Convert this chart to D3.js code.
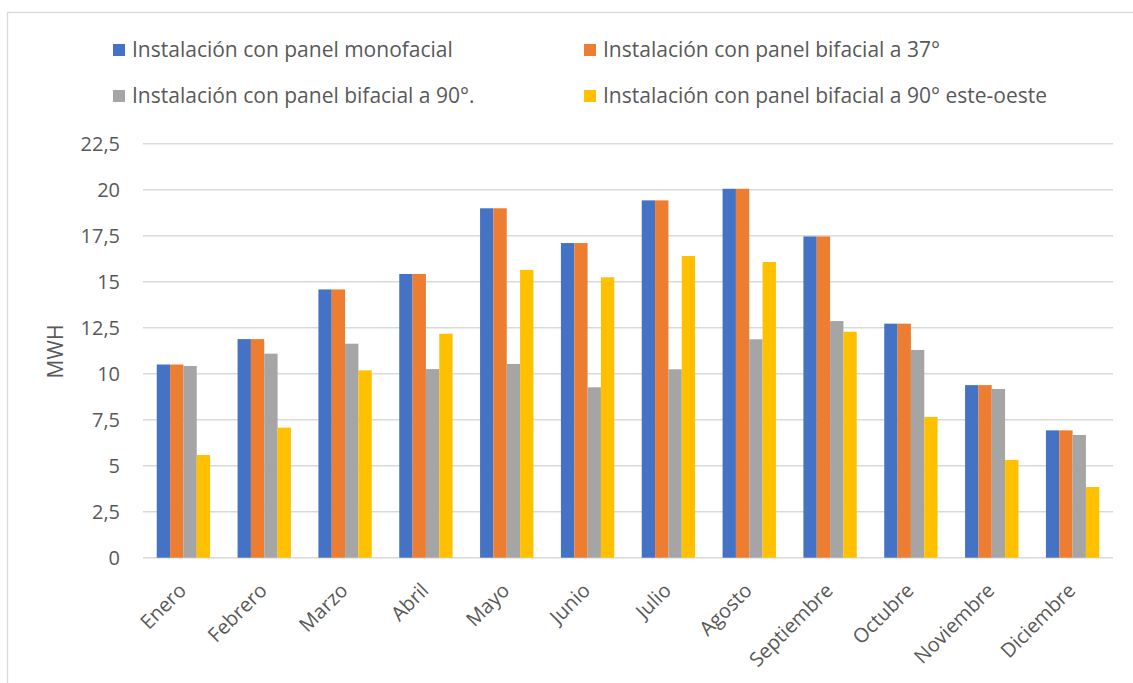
<!DOCTYPE html>
<html><head><meta charset="utf-8">
<script src="https://cdn.jsdelivr.net/npm/d3@7"></script>
<style>body{margin:0;background:#fff}svg{display:block}text{font-family:"Open Sans",sans-serif;fill:#595959}</style>
</head><body><svg id="c" width="1133" height="683"></svg>
<script>
const months = ["Enero","Febrero","Marzo","Abril","Mayo","Junio","Julio","Agosto","Septiembre","Octubre","Noviembre","Diciembre"];
const seriesNames = ["Instalación con panel monofacial","Instalación con panel bifacial a 37°","Instalación con panel bifacial a 90°.","Instalación con panel bifacial a 90° este-oeste"];
const monofacial = [10.5, 11.88, 14.58, 15.42, 18.99, 17.1, 19.42, 20.05, 17.46, 12.72, 9.38, 6.92];
const bifacial37 = [10.5, 11.88, 14.58, 15.42, 18.99, 17.1, 19.42, 20.05, 17.46, 12.72, 9.38, 6.92];
const bifacial90 = [10.42, 11.09, 11.63, 10.25, 10.53, 9.26, 10.24, 11.87, 12.86, 11.29, 9.17, 6.67];
const bifacial90EO = [5.58, 7.07, 10.18, 12.17, 15.64, 15.24, 16.4, 16.07, 12.28, 7.65, 5.31, 3.84];
const yTicks = [0, 2.5, 5, 7.5, 10, 12.5, 15, 17.5, 20, 22.5];
const colors = ["#4472C4","#ED7D31","#A5A5A5","#FFC000"];
const allSeries = [monofacial, bifacial37, bifacial90, bifacial90EO];

const svg = d3.select("#c");
svg.append("rect").attr("x",7.5).attr("y",12.5).attr("width",1200).attr("height",800)
  .attr("fill","none").attr("stroke","#D9D9D9").attr("stroke-width",1.3);

const x0 = d3.scaleBand().domain(months).range([143,1113]).paddingInner(0.34).paddingOuter(0.17);
const x1 = d3.scaleBand().domain(d3.range(4)).range([0,x0.bandwidth()]);
const y = d3.scaleLinear().domain([0,22.5]).range([557.7,143.7]);
const fmt = v => String(v).replace(".",",");

// gridlines
svg.append("g").selectAll("line").data(yTicks).join("line")
  .attr("x1",143).attr("x2",1113).attr("y1",d=>y(d)).attr("y2",d=>y(d))
  .attr("stroke","#D9D9D9").attr("stroke-width",1.5);

// y axis labels
const yAxis = d3.axisLeft(y).tickValues(yTicks).tickFormat(fmt).tickSize(0).tickPadding(0);
const gy = svg.append("g").attr("transform","translate(120,0)").call(yAxis);
gy.select(".domain").remove();
gy.selectAll("text").style("font-size","20px").attr("fill","#595959").attr("dy","0.35em");

// bars
const groups = svg.append("g").selectAll("g").data(months).join("g")
  .attr("transform",m=>`translate(${x0(m)},0)`);
groups.selectAll("rect").data((m,i)=>allSeries.map((s,k)=>({k,v:s[i]}))).join("rect")
  .attr("x",d=>x1(d.k)).attr("width",x1.bandwidth())
  .attr("y",d=>y(d.v)).attr("height",d=>y(0)-y(d.v))
  .attr("fill",d=>colors[d.k]);

// x axis labels
const xAxis = d3.axisBottom(x0).tickSize(0).tickPadding(0);
const gx = svg.append("g").attr("transform","translate(0,557.7)").call(xAxis);
gx.select(".domain").remove();
gx.selectAll("text").style("font-size","20px").attr("fill","#595959")
  .attr("text-anchor","end").attr("dy","0").attr("y",0)
  .attr("transform","translate(4,34) rotate(-45)");

// y title
svg.append("text").attr("transform","translate(63,351.5) rotate(-90)")
  .attr("text-anchor","middle").style("font-size","21px").text("MWH");

// legend
const legPos = [[113,50],[584,50],[113,96],[584,96]];
const lg = svg.append("g").selectAll("g").data(seriesNames).join("g")
  .attr("transform",(d,i)=>`translate(${legPos[i][0]},${legPos[i][1]})`);
lg.append("rect").attr("x",0).attr("y",-6).attr("width",12).attr("height",12).attr("fill",(d,i)=>colors[i]);
lg.append("text").attr("x",19).attr("dy","0.35em").style("font-size","21px").text(d=>d);
</script></body></html>
